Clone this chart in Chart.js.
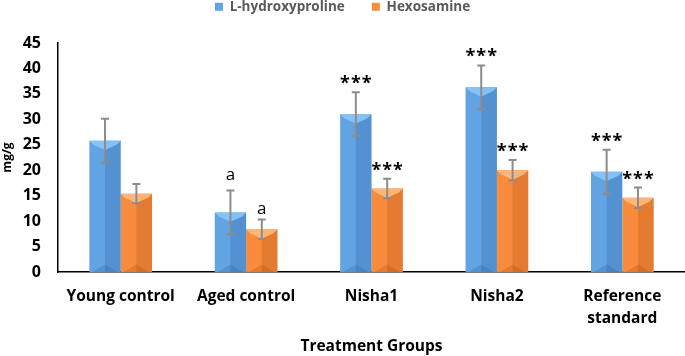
<!DOCTYPE html>
<html lang="en">
<head>
  <meta charset="UTF-8">
  <title>L-hydroxyproline and Hexosamine</title>
  <script src="https://cdn.jsdelivr.net/npm/chart.js"></script>
  <style>
    html, body { margin: 0; padding: 0; background: #fff; }
    #wrap { width: 685px; height: 356px; }
  </style>
</head>
<body>
  <div id="wrap"><canvas id="chart" width="685" height="356"></canvas></div>

  <script>
    const groups = ['Young control', 'Aged control', 'Nisha1', 'Nisha2', ['Reference', 'standard']];
    const hydroxyproline = [25.8, 11.7, 31.0, 36.3, 19.7];
    const hydroxyErr = [4.3, 4.3, 4.3, 4.3, 4.3];
    const hexosamine = [15.4, 8.4, 16.4, 20.0, 14.6];
    const hexoErr = [1.9, 1.9, 1.9, 2.0, 2.0];
    const hydroxyMarks = ['', 'a', '***', '***', '***'];
    const hexoMarks = ['', 'a', '***', '***', '***'];
    const yTicks = [0, 5, 10, 15, 20, 25, 30, 35, 40, 45];

    const errors = [hydroxyErr, hexoErr];
    const marks = [hydroxyMarks, hexoMarks];
    const letterLift = [11, 6];
    const shades = [
      { light: 'rgba(140,200,250,0.85)', dark: 'rgba(40,90,150,0.25)' },
      { light: 'rgba(255,190,130,0.85)', dark: 'rgba(150,60,0,0.2)' }
    ];

    // bevel look, error bars and significance marks
    const extras = {
      id: 'extras',
      afterDatasetsDraw(chart) {
        const ctx = chart.ctx;
        const y = chart.scales.y;
        chart.data.datasets.forEach((ds, di) => {
          const meta = chart.getDatasetMeta(di);
          meta.data.forEach((bar) => {
            const left = bar.x - bar.width / 2;
            const right = bar.x + bar.width / 2;
            const top = bar.y;
            const bottom = bar.base;
            const w = bar.width;
            const t = Math.min(w * 0.3, (bottom - top) / 2);
            ctx.save();
            ctx.fillStyle = shades[di].dark;
            ctx.fillRect(bar.x, top, w / 2, bottom - top);
            ctx.fillStyle = shades[di].light;
            ctx.beginPath();
            ctx.moveTo(left, top);
            ctx.lineTo(right, top);
            ctx.lineTo(right - 4, top + 4);
            ctx.lineTo(bar.x, top + t);
            ctx.lineTo(left + 4, top + 4);
            ctx.closePath();
            ctx.fill();
            ctx.fillStyle = shades[di].dark;
            ctx.beginPath();
            ctx.moveTo(left + 3, bottom);
            ctx.lineTo(bar.x, bottom - t * 0.8);
            ctx.lineTo(right - 3, bottom);
            ctx.closePath();
            ctx.fill();
            ctx.restore();
          });
        });
        chart.data.datasets.forEach((ds, di) => {
          const meta = chart.getDatasetMeta(di);
          meta.data.forEach((bar, i) => {
            const v = ds.data[i];
            const e = errors[di][i];
            const yTop = y.getPixelForValue(v + e);
            const yBot = y.getPixelForValue(v - e);
            ctx.save();
            ctx.strokeStyle = '#8c8c8c';
            ctx.lineWidth = 2;
            ctx.beginPath();
            ctx.moveTo(bar.x, yTop);
            ctx.lineTo(bar.x, yBot);
            ctx.moveTo(bar.x - 4, yTop);
            ctx.lineTo(bar.x + 4, yTop);
            ctx.moveTo(bar.x - 4, yBot);
            ctx.lineTo(bar.x + 4, yBot);
            ctx.stroke();
            const m = marks[di][i];
            if (m) {
              ctx.fillStyle = '#000';
              ctx.textAlign = 'center';
              ctx.textBaseline = 'alphabetic';
              if (m === 'a') {
                ctx.font = '17px "Open Sans", sans-serif';
                ctx.fillText(m, bar.x, yTop - letterLift[di]);
              } else {
                ctx.font = 'bold 18px "Open Sans", sans-serif';
                ctx.letterSpacing = '1px';
                ctx.fillText(m, bar.x + 0.5, yTop - 3);
              }
            }
            ctx.restore();
          });
        });
      }
    };

    new Chart(document.getElementById('chart').getContext('2d'), {
      type: 'bar',
      data: {
        labels: groups,
        datasets: [
          { label: 'L-hydroxyproline', data: hydroxyproline, backgroundColor: '#62a3e4', borderWidth: 0 },
          { label: 'Hexosamine', data: hexosamine, backgroundColor: '#f88b3c', borderWidth: 0 }
        ]
      },
      options: {
        responsive: false,
        animation: false,
        categoryPercentage: 0.5,
        barPercentage: 1.0,
        layout: { padding: { top: -27, right: 0, left: 0, bottom: 0 } },
        plugins: {
          legend: {
            position: 'top',
            weight: 3000,
            labels: {
              boxWidth: 8,
              boxHeight: 8,
              padding: 27,
              color: '#595959',
              font: { family: '"Open Sans", sans-serif', size: 13.5, weight: 'bold' }
            }
          },
          subtitle: {
            display: true,
            text: '',
            font: { size: 10, lineHeight: 1 },
            padding: { top: 9.5, bottom: 0 }
          },
          tooltip: { enabled: false }
        },
        scales: {
          x: {
            grid: { display: false, drawTicks: false },
            border: { display: true, color: '#000', width: 1.5 },
            ticks: {
              color: '#000',
              padding: 14,
              font: { family: '"Open Sans", sans-serif', size: 15.5, weight: 'bold', lineHeight: 1.4 }
            },
            title: {
              display: true,
              text: 'Treatment Groups',
              color: '#000',
              padding: { top: 0, bottom: 0 },
              font: { family: '"Open Sans", sans-serif', size: 15.5, weight: 'bold' }
            },
            afterFit(scale) { scale.height = 84; }
          },
          y: {
            min: 0,
            max: 45,
            afterBuildTicks(scale) { scale.ticks = yTicks.map(v => ({ value: v })); },
            grid: { display: false, drawTicks: false },
            border: { display: true, color: '#000', width: 1.5 },
            ticks: {
              color: '#000',
              padding: 17,
              font: { family: '"Open Sans", sans-serif', size: 16, weight: 'bold' }
            },
            title: {
              display: true,
              text: 'mg/g',
              color: '#000',
              padding: { top: 0, bottom: 4 },
              font: { family: '"Open Sans", sans-serif', size: 12, weight: 'bold' }
            },
            afterFit(scale) { scale.width = 58; }
          }
        }
      },
      plugins: [extras]
    });
  </script>
</body>
</html>
